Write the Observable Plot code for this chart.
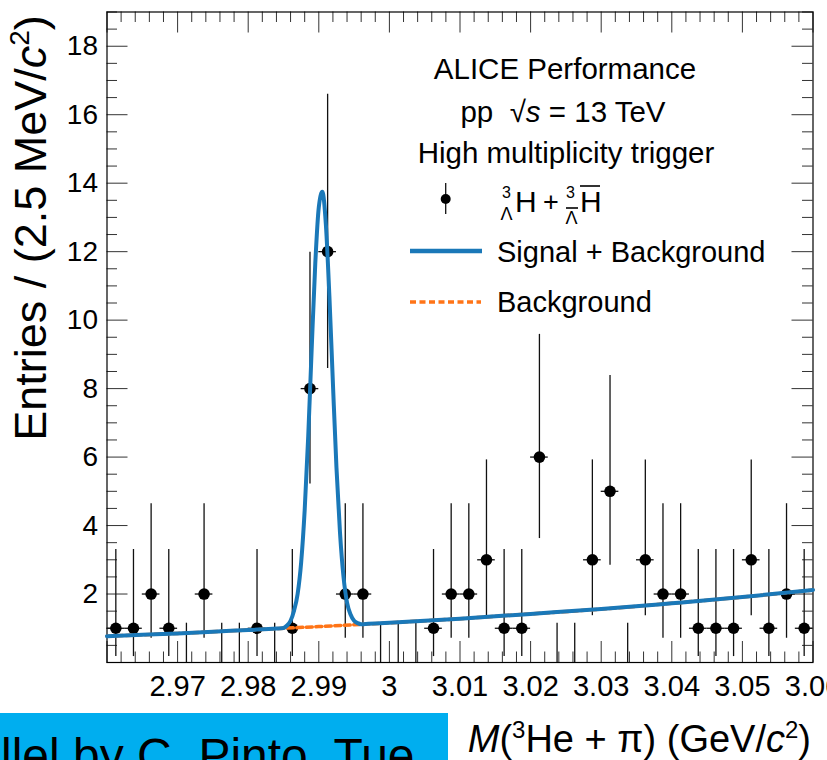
<!DOCTYPE html>
<html>
<head>
<meta charset="utf-8">
<script src="https://cdn.jsdelivr.net/npm/d3@7"></script>
<script src="https://cdn.jsdelivr.net/npm/@observablehq/plot@0.6"></script>
<style>
  html, body { margin: 0; padding: 0; background: #fff; }
  #chart { width: 827px; height: 760px; overflow: hidden; }
</style>
</head>
<body>
<div id="chart"></div>
<script>
// Invariant-mass histogram, 2.5 MeV/c^2 bins (bin centres in GeV/c^2)
const binCenters = [
  2.96125, 2.96375, 2.96625, 2.96875, 2.97125, 2.97375, 2.97625, 2.97875, 2.98125, 2.98375,
  2.98625, 2.98875, 2.99125, 2.99375, 2.99625, 2.99875, 3.00125, 3.00375, 3.00625, 3.00875,
  3.01125, 3.01375, 3.01625, 3.01875, 3.02125, 3.02375, 3.02625, 3.02875, 3.03125, 3.03375,
  3.03625, 3.03875, 3.04125, 3.04375, 3.04625, 3.04875, 3.05125, 3.05375, 3.05625, 3.05875
];
const binCounts = [
  1, 1, 2, 1, 0, 2, 0, 0, 1, 0,
  1, 8, 12, 2, 2, 0, 0, 0, 1, 2,
  2, 3, 1, 1, 6, 0, 0, 3, 5, 0,
  3, 2, 2, 1, 1, 1, 3, 1, 2, 1
];
const binHalfWidth = 0.00125;

// Poisson (68%) confidence limits for the counts that occur
const poissonCounts = [0, 1, 2, 3, 5, 6, 8, 12];
const poissonLow    = [0, 0.173, 0.708, 1.367, 2.840, 3.620, 5.217, 8.589];
const poissonHigh   = [1.148, 3.300, 4.638, 5.918, 8.382, 9.584, 11.981, 16.598];

// Fitted curves: signal + background, and background only
const fitX = [2.960, 2.965, 2.970, 2.975, 2.980, 2.984, 2.985, 2.9855, 2.986, 2.9865,
              2.987, 2.9875, 2.988, 2.9885, 2.989, 2.9895, 2.990, 2.9905, 2.991, 2.9915,
              2.992, 2.9925, 2.993, 2.9935, 2.994, 2.9945, 2.995, 2.9955, 2.996, 2.997,
              3.000, 3.010, 3.020, 3.030, 3.040, 3.050, 3.060];
const fitY = [0.77, 0.81, 0.85, 0.90, 0.95, 0.99, 1.01, 1.08, 1.22, 1.52,
              2.00, 2.92, 4.45, 6.60, 9.20, 11.65, 13.30, 13.75, 12.80, 10.70,
              8.15, 5.70, 3.80, 2.50, 1.75, 1.40, 1.22, 1.15, 1.12, 1.13,
              1.16, 1.28, 1.42, 1.56, 1.73, 1.91, 2.12];
const bkgX = [2.96, 2.97, 2.98, 2.99, 3.00, 3.01, 3.02, 3.03, 3.04, 3.05, 3.06];
const bkgY = [0.77, 0.85, 0.95, 1.05, 1.16, 1.28, 1.42, 1.56, 1.73, 1.91, 2.12];

// Axis ticks and labels
const xMajorTicks = [2.96, 2.97, 2.98, 2.99, 3.00, 3.01, 3.02, 3.03, 3.04, 3.05, 3.06];
const xLabelTicks = [2.97, 2.98, 2.99, 3.00, 3.01, 3.02, 3.03, 3.04, 3.05, 3.06];
const xTickLabels = ["2.97", "2.98", "2.99", "3", "3.01", "3.02", "3.03", "3.04", "3.05", "3.06"];
const yMajorTicks = [0, 2, 4, 6, 8, 10, 12, 14, 16, 18];
const yLabelTicks = [2, 4, 6, 8, 10, 12, 14, 16, 18];
const xMinorTicks = d3.range(51).filter(i => i % 5).map(i => 2.96 + i * 0.002);
const yMinorTicks = d3.range(39).filter(i => i % 4).map(i => i * 0.5);

const FONT = "'Liberation Sans', Arial, Helvetica, sans-serif";
const BLUE = "#1a78b8";
const ORANGE = "#ff7417";

const W = 827, H = 760;
const M = {top: 11.5, right: 14.5, bottom: 98, left: 106.5};
const innerW = W - M.left - M.right;
const innerH = H - M.top - M.bottom;
const MAJOR = 21, MINOR = 10.5;

const bins = binCenters.map((x, i) => {
  const n = binCounts[i];
  const k = poissonCounts.indexOf(n);
  return {x, n, lo: poissonLow[k], hi: poissonHigh[k]};
});
const filled = bins.filter(d => d.n > 0);
const fit = fitX.map((x, i) => ({x, y: fitY[i]}));
const bkg = bkgX.map((x, i) => ({x, y: bkgY[i]}));
const xLabelMap = new Map(xLabelTicks.map((t, i) => [t, xTickLabels[i]]));

// Text decorations: legend block, axis titles, footer banner
function decorations() {
  const g = d3.create("svg:g").attr("font-family", FONT).attr("fill", "#000")
    .attr("text-anchor", "start");

  // header lines of the legend
  const header = [
    {t: "ALICE Performance", x: 565, y: 79},
    {t: null, x: 563, y: 122},
    {t: "High multiplicity trigger", x: 566, y: 163}
  ];
  header.forEach(h => {
    const tx = g.append("text").attr("x", h.x).attr("y", h.y)
      .attr("text-anchor", "middle").attr("font-size", 29.5);
    if (h.t) tx.text(h.t);
    else {
      tx.append("tspan").text("pp  \u221A");
      tx.append("tspan").attr("font-style", "italic").text("s");
      tx.append("tspan").text(" = 13 TeV");
    }
  });

  // data entry: marker with error bar
  g.append("line").attr("x1", 445.7).attr("x2", 445.7).attr("y1", 183).attr("y2", 214)
    .attr("stroke", "#111").attr("stroke-width", 1.3);
  g.append("circle").attr("cx", 445.7).attr("cy", 199).attr("r", 5);
  // hypertriton + anti-hypertriton label
  const small = 16, lam = 18, big = 30;
  g.append("text").attr("x", 502).attr("y", 197.5).attr("font-size", small).text("3");
  g.append("text").attr("x", 500.5).attr("y", 220).attr("font-size", lam).text("\u039B");
  g.append("text").attr("x", 515).attr("y", 212).attr("font-size", big).text("H");
  g.append("text").attr("x", 543).attr("y", 211).attr("font-size", 27).text("+");
  g.append("text").attr("x", 566).attr("y", 197.5).attr("font-size", small).text("3");
  g.append("line").attr("x1", 566).attr("x2", 578).attr("y1", 208).attr("y2", 208)
    .attr("stroke", "#000").attr("stroke-width", 1.6);
  g.append("text").attr("x", 565.5).attr("y", 224).attr("font-size", lam).text("\u039B");
  g.append("text").attr("x", 580).attr("y", 212).attr("font-size", big).text("H");
  g.append("line").attr("x1", 580).attr("x2", 600).attr("y1", 186).attr("y2", 186)
    .attr("stroke", "#000").attr("stroke-width", 1.6);

  // fit entries
  g.append("line").attr("x1", 410).attr("x2", 482).attr("y1", 251).attr("y2", 251)
    .attr("stroke", BLUE).attr("stroke-width", 4.5);
  g.append("text").attr("x", 497).attr("y", 262).attr("font-size", 29).text("Signal + Background");
  g.append("line").attr("x1", 410).attr("x2", 481).attr("y1", 302).attr("y2", 302)
    .attr("stroke", ORANGE).attr("stroke-width", 3.5).attr("stroke-dasharray", "6,3.5");
  g.append("text").attr("x", 497).attr("y", 312).attr("font-size", 29).text("Background");

  // y-axis title
  const yt = g.append("text").attr("transform", "translate(46,228) rotate(-90)")
    .attr("text-anchor", "middle").attr("font-size", 45);
  yt.append("tspan").text("Entries / (2.5 MeV/");
  yt.append("tspan").attr("font-style", "italic").text("c");
  yt.append("tspan").attr("font-size", 28).attr("dy", -17).text("2");
  yt.append("tspan").attr("dy", 17).text(")");

  // x-axis title
  const xt = g.append("text").attr("x", 811).attr("y", 752)
    .attr("text-anchor", "end").attr("font-size", 38);
  xt.append("tspan").attr("font-style", "italic").text("M");
  xt.append("tspan").text("(");
  xt.append("tspan").attr("font-size", 24).attr("dy", -14).text("3");
  xt.append("tspan").attr("dy", 14).text("He + \u03C0) (GeV/");
  xt.append("tspan").attr("font-style", "italic").text("c");
  xt.append("tspan").attr("font-size", 24).attr("dy", -14).text("2");
  xt.append("tspan").attr("dy", 14).text(")");

  // footer banner
  g.append("rect").attr("x", 0).attr("y", 713).attr("width", 448).attr("height", 47)
    .attr("fill", "#00aeef");
  g.append("text").attr("x", 1).attr("y", 772).attr("font-size", 48)
    .attr("text-anchor", "start").text("llel by C. Pinto, Tue");

  return g.node();
}

const chart = Plot.plot({
  width: W,
  height: H,
  marginTop: M.top,
  marginRight: M.right,
  marginBottom: M.bottom,
  marginLeft: M.left,
  x: {domain: [2.96, 3.06]},
  y: {domain: [0, 19]},
  style: {fontFamily: FONT, background: "#fff", color: "#000", overflow: "hidden"},
  marks: [
    // inward-pointing ticks on all four sides
    Plot.ruleX(xMinorTicks, {insetTop: innerH - MINOR, stroke: "#333", strokeWidth: 1}),
    Plot.ruleX(xMinorTicks, {insetBottom: innerH - MINOR, stroke: "#333", strokeWidth: 1}),
    Plot.ruleX(xMajorTicks, {insetTop: innerH - MAJOR, stroke: "#333", strokeWidth: 1}),
    Plot.ruleX(xMajorTicks, {insetBottom: innerH - MAJOR, stroke: "#333", strokeWidth: 1}),
    Plot.ruleY(yMinorTicks, {insetRight: innerW - MINOR, stroke: "#333", strokeWidth: 1}),
    Plot.ruleY(yMinorTicks, {insetLeft: innerW - MINOR, stroke: "#333", strokeWidth: 1}),
    Plot.ruleY(yMajorTicks, {insetRight: innerW - MAJOR, stroke: "#333", strokeWidth: 1}),
    Plot.ruleY(yMajorTicks, {insetLeft: innerW - MAJOR, stroke: "#333", strokeWidth: 1}),
    Plot.axisX({ticks: xLabelTicks, tickSize: 0, tickPadding: 13, fontSize: 29,
                tickFormat: d => xLabelMap.get(d), label: null}),
    Plot.axisY({ticks: yLabelTicks, tickSize: 0, tickPadding: 9, fontSize: 28, label: null}),
    Plot.frame({stroke: "#000", strokeWidth: 1.2}),
    // data: Poisson error bars, bin-width bars and markers
    Plot.ruleX(bins, {x: "x", y1: "lo", y2: "hi", stroke: "#111", strokeWidth: 1.3}),
    Plot.ruleY(filled, {y: "n", x1: d => d.x - binHalfWidth, x2: d => d.x + binHalfWidth,
                        stroke: "#111", strokeWidth: 1.3}),
    Plot.dot(filled, {x: "x", y: "n", r: 5.8, fill: "#000", stroke: "none"}),
    // fit curves
    Plot.line(bkg, {x: "x", y: "y", stroke: ORANGE, strokeWidth: 3.5,
                    strokeDasharray: "6,3.5", curve: "monotone-x"}),
    Plot.line(fit, {x: "x", y: "y", stroke: BLUE, strokeWidth: 4, curve: "monotone-x"}),
    decorations
  ]
});

document.getElementById("chart").appendChild(chart);
</script>
</body>
</html>
